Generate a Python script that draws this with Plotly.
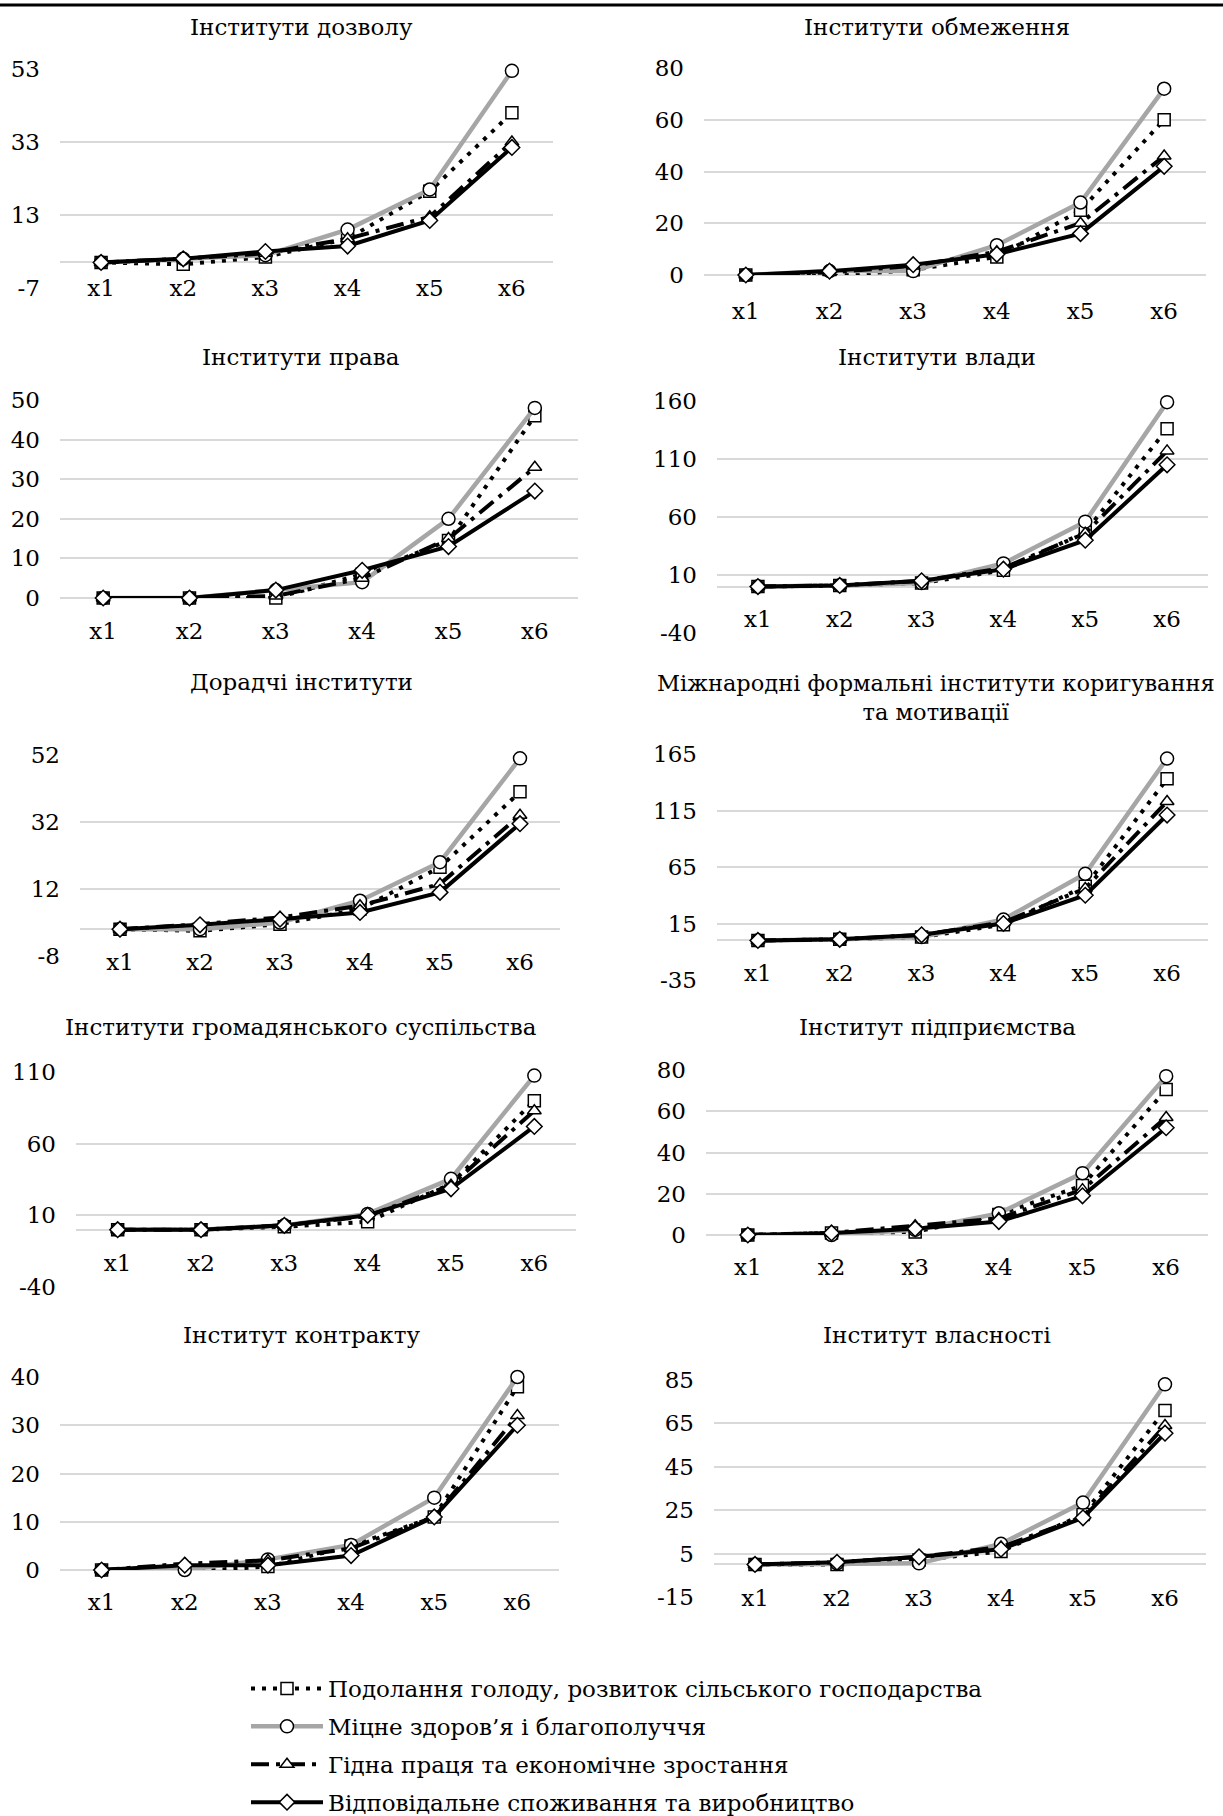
import plotly.graph_objects as go

categories = ["x1", "x2", "x3", "x4", "x5", "x6"]
series_names = [
    "Подолання голоду, розвиток сільського господарства",
    "Міцне здоров’я і благополуччя",
    "Гідна праця та економічне зростання",
    "Відповідальне споживання та виробництво",
]
panel_titles = [
    "Інститути дозволу", "Інститути обмеження", "Інститути права", "Інститути влади",
    "Дорадчі інститути", "Міжнародні формальні інститути коригування<br>та мотивації",
    "Інститути громадянського суспільства", "Інститут підприємства",
    "Інститут контракту", "Інститут власності",
]

# y tick values per panel
ticks_dozvil = [-7, 13, 33, 53]
ticks_obmezh = [0, 20, 40, 60, 80]
ticks_prava = [0, 10, 20, 30, 40, 50]
ticks_vlady = [-40, 10, 60, 110, 160]
ticks_doradchi = [-8, 12, 32, 52]
ticks_mizhnar = [-35, 15, 65, 115, 165]
ticks_hromad = [-40, 10, 60, 110]
ticks_pidpr = [0, 20, 40, 60, 80]
ticks_kontr = [0, 10, 20, 30, 40]
ticks_vlasn = [-15, 5, 25, 45, 65, 85]

# values: hunger / health / work / consumption
dozvil_hunger = [0, -0.5, 1.5, 6.5, 19.5, 41]
dozvil_health = [0, 1, 2, 9, 20, 52.5]
dozvil_work = [0, 1, 2.5, 6.5, 12.5, 33]
dozvil_cons = [0, 1, 3, 4.5, 11.5, 31.5]

obmezh_hunger = [0, -0.5, 2, 7, 25, 60]
obmezh_health = [0, 1.5, 1.5, 11.5, 28, 72]
obmezh_work = [0, 1, 3.5, 9, 20, 46]
obmezh_cons = [0, 1.5, 4, 8, 16, 42]

prava_hunger = [0, 0, 0, 6, 14.5, 46]
prava_health = [0, 0, 2, 4, 20, 48]
prava_work = [0, 0, 0.5, 5, 15, 33]
prava_cons = [0, 0, 2, 7, 13, 27]

vlady_hunger = [0, 1, 3, 14, 47, 136]
vlady_health = [0, 1, 3, 20, 56, 159]
vlady_work = [0, 1, 5, 16, 46, 117]
vlady_cons = [0, 1, 5, 15, 40, 105]

doradchi_hunger = [0, -0.5, 1.5, 6, 18.5, 41]
doradchi_health = [0, 0, 2, 8.5, 20, 51]
doradchi_work = [0, 1.5, 3.5, 7, 13.5, 34]
doradchi_cons = [0, 1.3, 3, 5, 11, 31.5]

mizhnar_hunger = [0, 1, 3, 14, 48, 143]
mizhnar_health = [0, 1, 3, 18.5, 59, 161]
mizhnar_work = [0, 1, 5, 16, 46, 123]
mizhnar_cons = [0, 1, 5, 15, 40, 111]

hromad_hunger = [0, 0, 2, 5.5, 32, 90]
hromad_health = [0, 0, 3, 11, 35.5, 107.5]
hromad_work = [0, 0, 3, 9.5, 31, 83]
hromad_cons = [0, 0, 3, 10, 28.5, 72]

pidpr_hunger = [0, 1, 1.5, 10, 24, 70.5]
pidpr_health = [0, 0, 2.5, 10.5, 30, 77]
pidpr_work = [0, 1, 4.5, 8, 22, 57]
pidpr_cons = [0, 1, 3, 6.5, 19, 52]

kontr_hunger = [0, -0.3, 0.7, 5, 11, 38]
kontr_health = [0, 0, 2.2, 5.2, 15, 40]
kontr_work = [0, 1.3, 2, 4.5, 11, 32]
kontr_cons = [0, 1, 1, 3, 11, 30]

vlasn_hunger = [0, 0, 2, 6, 23, 71]
vlasn_health = [0, 0.5, 0.5, 9.5, 28.5, 83]
vlasn_work = [0, 1, 3.5, 8, 22, 64]
vlasn_cons = [0, 1, 3.5, 7, 21.5, 60.5]

panel_ticks = [ticks_dozvil, ticks_obmezh, ticks_prava, ticks_vlady, ticks_doradchi,
               ticks_mizhnar, ticks_hromad, ticks_pidpr, ticks_kontr, ticks_vlasn]
panel_values = [
    [dozvil_hunger, dozvil_health, dozvil_work, dozvil_cons],
    [obmezh_hunger, obmezh_health, obmezh_work, obmezh_cons],
    [prava_hunger, prava_health, prava_work, prava_cons],
    [vlady_hunger, vlady_health, vlady_work, vlady_cons],
    [doradchi_hunger, doradchi_health, doradchi_work, doradchi_cons],
    [mizhnar_hunger, mizhnar_health, mizhnar_work, mizhnar_cons],
    [hromad_hunger, hromad_health, hromad_work, hromad_cons],
    [pidpr_hunger, pidpr_health, pidpr_work, pidpr_cons],
    [kontr_hunger, kontr_health, kontr_work, kontr_cons],
    [vlasn_hunger, vlasn_health, vlasn_work, vlasn_cons],
]

# ---- layout (page pixels, mapped to figure fractions) ----
W, H = 1223, 1816
FONT = "DejaVu Serif"
FS = 23


def fx(px):
    return px / W


def fy(py):
    return 1 - py / H


panel_boxes = [(60, 553, 69, 288), (704, 1206, 68, 275), (60, 578, 400, 598), (717, 1208, 401, 633),
               (80, 560, 755, 956), (717, 1208, 754, 980), (76, 576, 1072, 1287), (706, 1208, 1070, 1235),
               (60, 559, 1377, 1570), (714, 1206, 1380, 1597)]
title_pos = [(301, 27), (937, 27), (301, 357), (937, 357), (301, 682), (936, 697),
             (301, 1027), (937, 1027), (301, 1335), (937, 1335)]
title_size = [FS, FS, FS, FS, FS, 22.5, FS, FS, FS, FS]
xlabel_offset = [27, 37, 34, 33, 34, 34, 34, 33, 33, 35]

styles = [
    dict(line=dict(color="black", width=4, dash="4px,7px"),
         marker=dict(symbol="square", size=12, color="white", line=dict(color="black", width=1.5))),
    dict(line=dict(color="#A6A6A6", width=4.5),
         marker=dict(symbol="circle", size=13, color="white", line=dict(color="black", width=1.5))),
    dict(line=dict(color="black", width=4, dash="18px,7px,4px,7px"),
         marker=dict(symbol="triangle-up", size=12, color="white", line=dict(color="black", width=1.5))),
    dict(line=dict(color="black", width=4),
         marker=dict(symbol="diamond", size=12, color="white", line=dict(color="black", width=1.5))),
]

fig = go.Figure()
layout = dict(
    width=W, height=H, margin=dict(l=0, r=0, t=0, b=0, autoexpand=False),
    paper_bgcolor="white", plot_bgcolor="white",
    font=dict(family=FONT, size=FS, color="black"),
    showlegend=True,
)
annotations = []

for i in range(10):
    k = i + 1
    xa = "x" if k == 1 else f"x{k}"
    ya = "y" if k == 1 else f"y{k}"
    x0, x1, y0, y1 = panel_boxes[i]
    ticks = panel_ticks[i]
    ymin, ymax = min(ticks), max(ticks)
    dom_y0 = fy(y1)
    dom_y1 = fy(y0)
    zero_pos = dom_y0 + (0 - ymin) / (ymax - ymin) * (dom_y1 - dom_y0)
    for s in range(4):
        fig.add_trace(go.Scatter(
            x=categories, y=panel_values[i][s], mode="lines+markers",
            name=series_names[s], xaxis=xa, yaxis=ya,
            line=styles[s]["line"], marker=styles[s]["marker"],
            showlegend=(i == 0), legendgroup=f"g{s}", cliponaxis=False,
        ))
    layout["xaxis" if k == 1 else f"xaxis{k}"] = dict(
        domain=[fx(x0), fx(x1)], anchor="free", position=zero_pos,
        type="category", categoryorder="array", categoryarray=categories,
        range=[-0.5, 5.5], showgrid=False, zeroline=False, showline=False,
        ticks="", ticklabelstandoff=xlabel_offset[i] - 17,
        tickfont=dict(family=FONT, size=FS, color="black"), fixedrange=True,
    )
    layout["yaxis" if k == 1 else f"yaxis{k}"] = dict(
        domain=[dom_y0, dom_y1], anchor=xa, range=[ymin, ymax],
        tickmode="array", tickvals=ticks, ticktext=[str(t) for t in ticks],
        showgrid=True, gridcolor="#D9D9D9", gridwidth=2,
        zeroline=True, zerolinecolor="#D9D9D9", zerolinewidth=2,
        showline=False, ticks="", ticklabelstandoff=19,
        tickfont=dict(family=FONT, size=FS, color="black"), fixedrange=True,
    )
    tx, ty = title_pos[i]
    annotations.append(dict(
        text=panel_titles[i], x=fx(tx), y=fy(ty), xref="paper", yref="paper",
        xanchor="center", yanchor="middle", showarrow=False,
        font=dict(family=FONT, size=title_size[i], color="black"),
    ))

layout["annotations"] = annotations
layout["legend"] = dict(
    x=fx(246), y=fy(1667), xanchor="left", yanchor="top",
    font=dict(family=FONT, size=FS, color="black"),
    itemwidth=72, tracegroupgap=5, traceorder="grouped",
    bgcolor="rgba(0,0,0,0)",
)
layout["shapes"] = [dict(type="line", xref="paper", yref="paper", x0=0, x1=1,
                         y0=fy(5), y1=fy(5), line=dict(color="black", width=3))]
fig.update_layout(**layout)
fig.write_html(
    "out.html",
    config={"displayModeBar": False},
    post_script="document.body.style.margin='0';document.body.style.overflow='hidden';",
)
